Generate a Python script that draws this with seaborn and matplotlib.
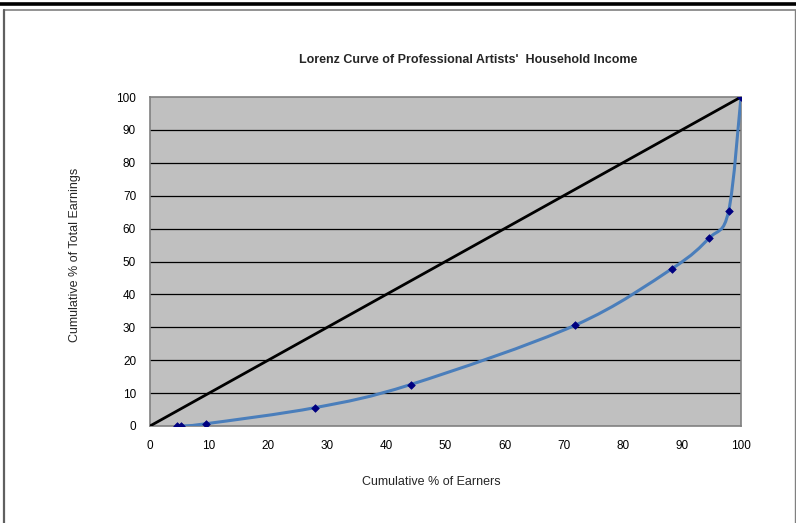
import numpy as np
import pandas as pd
import matplotlib
matplotlib.use("Agg")
import matplotlib.pyplot as plt
from matplotlib.path import Path
from matplotlib.patches import PathPatch
from matplotlib.lines import Line2D
import seaborn as sns

# Lorenz curve points (cumulative % of earners vs cumulative % of earnings)
earners_pct = [4.5, 5.2, 9.5, 28.0, 44.1, 71.9, 88.3, 94.6, 97.9, 100.0]
earnings_pct = [0.0, 0.0, 0.7, 5.6, 12.6, 30.6, 47.8, 57.1, 65.3, 100.0]

# Line of perfect equality
equality_x = [0, 100]
equality_y = [0, 100]

x_ticks = list(range(0, 101, 10))
y_ticks = list(range(0, 101, 10))

title = "Lorenz Curve of Professional Artists'  Household Income"
x_label = "Cumulative % of Earners"
y_label = "Cumulative % of Total Earnings"

sns.set_theme(style="white")
plt.rcParams["font.family"] = ["Liberation Sans", "DejaVu Sans"]

fig = plt.figure(figsize=(7.96, 5.23), dpi=100)
ax = fig.add_axes([150 / 796, 1 - 426 / 523, (741 - 150) / 796, (426 - 97) / 523])
ax.set_facecolor("#C0C0C0")

# Horizontal gridlines
for yv in y_ticks[1:-1]:
    ax.axhline(yv, color="black", lw=0.9, zorder=1)

# Equality diagonal
eq_df = pd.DataFrame({"x": equality_x, "y": equality_y})
sns.lineplot(data=eq_df, x="x", y="y", ax=ax, color="black", lw=2.0, zorder=3)

# Smoothed curve through the points (cubic Bezier segments, Catmull-Rom style)
px = np.array(earners_pct, dtype=float)
py = np.array(earnings_pct, dtype=float)
pts = np.column_stack([px, py])
n = len(pts)
verts = [tuple(pts[0])]
codes = [Path.MOVETO]
for i in range(n - 1):
    p0 = pts[i - 1] if i > 0 else pts[i]
    p1 = pts[i]
    p2 = pts[i + 1]
    p3 = pts[i + 2] if i + 2 < n else pts[i + 1]
    c1 = p1 + (p2 - p0) / 6.0
    c2 = p2 - (p3 - p1) / 6.0
    verts += [tuple(c1), tuple(c2), tuple(p2)]
    codes += [Path.CURVE4, Path.CURVE4, Path.CURVE4]
curve = PathPatch(Path(verts, codes), facecolor="none", edgecolor="#4A7EBB",
                  lw=2.2, zorder=4, capstyle="round", joinstyle="round")
ax.add_patch(curve)

pts_df = pd.DataFrame({"x": earners_pct, "y": earnings_pct})
sns.scatterplot(data=pts_df, x="x", y="y", ax=ax, marker="D", s=15,
                color="#000080", edgecolor="#000080", linewidth=0.5, zorder=5)

ax.set_xlim(0, 100)
ax.set_ylim(0, 100)
ax.set_xticks(x_ticks)
ax.set_yticks(y_ticks)
ax.set_xticklabels([str(t) for t in x_ticks], fontsize=8.5)
ax.set_yticklabels([str(t) for t in y_ticks], fontsize=8.5)
ax.tick_params(axis="both", direction="out", length=4, width=1, color="#808080",
               pad=6, labelcolor="black")
ax.set_xlabel("")
ax.set_ylabel("")
for s in ax.spines.values():
    s.set_visible(True)
    s.set_color("#808080")
    s.set_linewidth(1.2)

fig.text(468 / 796, 1 - 60 / 523, title, ha="center", va="center",
         fontsize=9, fontweight="bold")
fig.text(431 / 796, 1 - 482 / 523, x_label, ha="center", va="center", fontsize=9)
fig.text(75 / 796, 1 - 255 / 523, y_label, ha="center", va="center",
         rotation=90, fontsize=9)

# Page frame lines
fig.add_artist(Line2D([0, 1], [1 - 3.5 / 523, 1 - 3.5 / 523], color="black", lw=2.6,
                      transform=fig.transFigure))
fig.add_artist(Line2D([3.5 / 796, 1], [1 - 9.5 / 523, 1 - 9.5 / 523], color="#808080", lw=1.2,
                      transform=fig.transFigure))
fig.add_artist(Line2D([3.5 / 796, 3.5 / 796], [0, 1 - 9.5 / 523], color="#606060", lw=1.6,
                      transform=fig.transFigure))
fig.add_artist(Line2D([794.5 / 796, 794.5 / 796], [0, 1 - 9.5 / 523], color="#808080", lw=1.0,
                      transform=fig.transFigure))

fig.savefig("out.png", dpi=100)
